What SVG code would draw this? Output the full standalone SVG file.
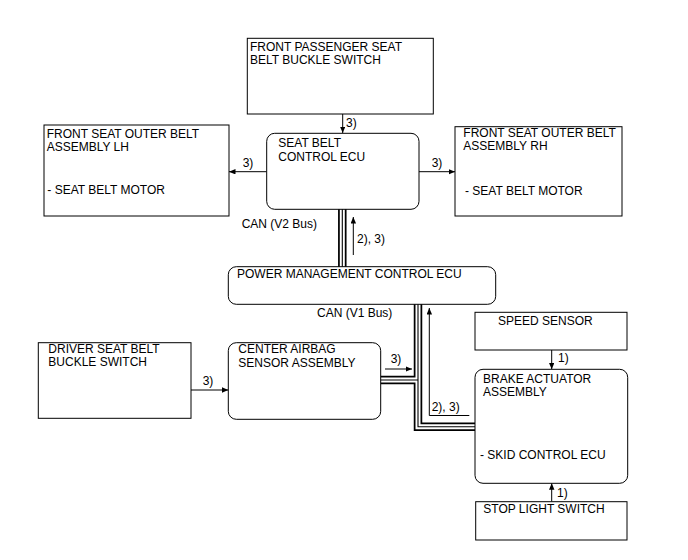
<svg xmlns="http://www.w3.org/2000/svg" width="688" height="560" viewBox="0 0 688 560">
<defs>
<style>
.box{fill:#fff;stroke:#000;stroke-width:1}
text{font-family:"Liberation Sans",Arial,sans-serif;font-size:12px;fill:#000}
.ln{fill:none;stroke:#000;stroke-width:1}
.busA{fill:none;stroke:#000;stroke-width:8.5}
.busB{fill:none;stroke:#fff;stroke-width:5}
.busC{fill:none;stroke:#000;stroke-width:1.1}
</style>
<marker id="ah" markerWidth="7" markerHeight="6" refX="6.5" refY="2.75" orient="auto" markerUnits="userSpaceOnUse">
<path d="M0,0 L6.5,2.75 L0,5.5 z" fill="#000"/>
</marker>
</defs>
<rect width="688" height="560" fill="#fff"/>

<g id="connectors">
<g id="buses">
<path class="busA" d="M342.3,209 V267"/>
<path class="busA" d="M418,304 V426.7 H476 M380.5,380 H418"/>
<path class="busB" d="M342.3,209 V267"/>
<path class="busB" d="M418,304 V426.7 H476 M380.5,380 H418"/>
<path class="busC" d="M342.3,209 V267"/>
<path class="busC" d="M418,304 V426.7 H476 M380.5,380 H418"/>
</g>
<path class="ln" marker-end="url(#ah)" d="M342.7,114 V133"/>
<path class="ln" marker-end="url(#ah)" d="M266.7,171.7 H229"/>
<path class="ln" marker-end="url(#ah)" d="M419,171.7 H455"/>
<path class="ln" marker-end="url(#ah)" d="M353.3,255 V217"/>
<path class="ln" marker-end="url(#ah)" d="M191,390 H228.3"/>
<path class="ln" marker-end="url(#ah)" d="M385,369 H412"/>
<path class="ln" marker-end="url(#ah)" d="M469.3,415.5 H429.3 V308"/>
<path class="ln" marker-end="url(#ah)" d="M551.7,350 V369.3"/>
<path class="ln" marker-end="url(#ah)" d="M551.7,501.7 V483.3"/>
<text x="346" y="126.7">3)</text>
<text x="242.7" y="166.7">3)</text>
<text x="431.7" y="166.7">3)</text>
<text x="357" y="243">2), 3)</text>
<text x="241.7" y="228.3">CAN (V2 Bus)</text>
<text x="317" y="317">CAN (V1 Bus)</text>
<text x="202.7" y="385">3)</text>
<text x="390.7" y="363.3">3)</text>
<text x="431.7" y="410.5">2), 3)</text>
<text x="558" y="361.7">1)</text>
<text x="557" y="496.7">1)</text>
</g>

<g id="front-passenger-buckle">
<rect class="box" x="247.3" y="38.3" width="186" height="75.7"/>
<text x="250" y="50.7">FRONT PASSENGER SEAT</text>
<text x="250" y="64.3">BELT BUCKLE SWITCH</text>
</g>

<g id="seat-belt-ecu">
<rect class="box" x="266.7" y="133.3" width="152.3" height="76" rx="8"/>
<text x="278.3" y="146.7">SEAT BELT</text>
<text x="278.3" y="160.7">CONTROL ECU</text>
</g>

<g id="outer-belt-lh">
<rect class="box" x="44" y="125" width="185" height="91"/>
<text x="46.7" y="138.3">FRONT SEAT OUTER BELT</text>
<text x="46.7" y="151">ASSEMBLY LH</text>
<text x="47.3" y="194">- SEAT BELT MOTOR</text>
</g>

<g id="outer-belt-rh">
<rect class="box" x="455" y="126.7" width="167" height="89.3"/>
<text x="463.3" y="137">FRONT SEAT OUTER BELT</text>
<text x="463.3" y="150">ASSEMBLY RH</text>
<text x="465" y="195">- SEAT BELT MOTOR</text>
</g>

<g id="power-management-ecu">
<rect class="box" x="228.3" y="266.7" width="267.4" height="37.6" rx="8"/>
<text x="237" y="278.3">POWER MANAGEMENT CONTROL ECU</text>
</g>

<g id="driver-buckle">
<rect class="box" x="38.3" y="342.7" width="152.7" height="75.6"/>
<text x="48.3" y="353.3">DRIVER SEAT BELT</text>
<text x="48.3" y="366">BUCKLE SWITCH</text>
</g>

<g id="center-airbag">
<rect class="box" x="228.3" y="342.7" width="152.4" height="76.6" rx="8"/>
<text x="238.3" y="353.3">CENTER AIRBAG</text>
<text x="238.3" y="366.7">SENSOR ASSEMBLY</text>
</g>

<g id="speed-sensor">
<rect class="box" x="475" y="312.3" width="152" height="37.7"/>
<text x="498" y="325">SPEED SENSOR</text>
</g>

<g id="brake-actuator">
<rect class="box" x="475" y="369.3" width="152.7" height="114" rx="8"/>
<text x="483" y="382.7">BRAKE ACTUATOR</text>
<text x="483" y="396">ASSEMBLY</text>
<text x="480" y="459">- SKID CONTROL ECU</text>
</g>

<g id="stop-light-switch">
<rect class="box" x="475.7" y="501.7" width="151.3" height="38.3"/>
<text x="483.3" y="513.3">STOP LIGHT SWITCH</text>
</g>
</svg>
